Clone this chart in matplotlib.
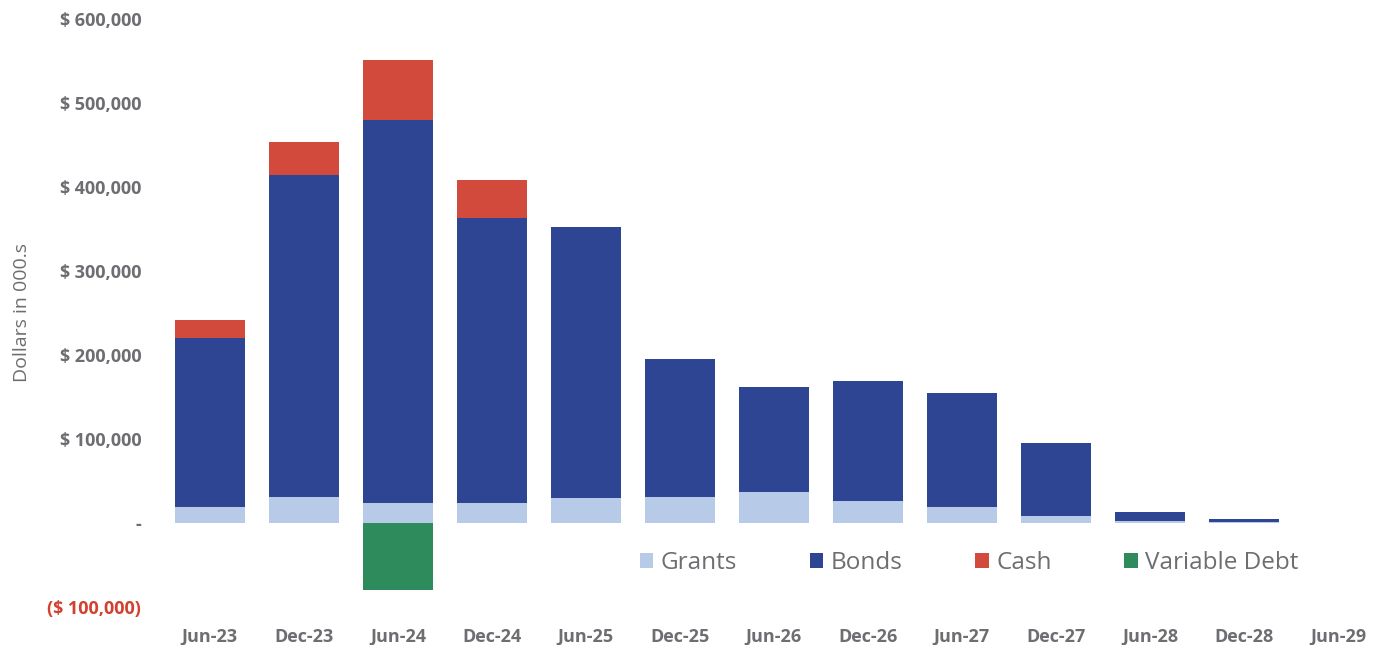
import numpy as np
import matplotlib
matplotlib.use('Agg')
import matplotlib.pyplot as plt

plt.rcParams['font.family'] = ['Open Sans', 'DejaVu Sans']

# Funding sources by period (dollars in 000s)
periods = ['Jun-23', 'Dec-23', 'Jun-24', 'Dec-24', 'Jun-25', 'Dec-25', 'Jun-26',
           'Dec-26', 'Jun-27', 'Dec-27', 'Jun-28', 'Dec-28', 'Jun-29']
grants = [19000, 31000, 23000, 23000, 29000, 31000, 36000, 26000, 19000, 8000, 2000, 1000, 0]
bonds = [201000, 383000, 457000, 340000, 323000, 164000, 126000, 143000, 135000, 87000, 11000, 3000, 0]
cash = [22000, 40000, 71000, 45000, 0, 0, 0, 0, 0, 0, 0, 0, 0]
variable_debt = [0, 0, -80000, 0, 0, 0, 0, 0, 0, 0, 0, 0, 0]

ytick_vals = [-100000, 0, 100000, 200000, 300000, 400000, 500000, 600000]
ytick_text = ['($ 100,000)', '-', '$ 100,000', '$ 200,000', '$ 300,000',
              '$ 400,000', '$ 500,000', '$ 600,000']

c_grants = '#b7cbe8'
c_bonds = '#2d4592'
c_cash = '#d24a3c'
c_var = '#2e8b5b'
grey = '#6d6d72'

fig = plt.figure(figsize=(13.9, 6.45), dpi=100)
ax = fig.add_axes([0.1036, 0.0465, 0.8928, 0.937])

x = np.arange(len(periods))
w = 0.75
g = np.array(grants)
b = np.array(bonds)
ax.bar(x, g, w, color=c_grants, label='Grants')
ax.bar(x, b, w, bottom=g, color=c_bonds, label='Bonds')
ax.bar(x, cash, w, bottom=g + b, color=c_cash, label='Cash')
ax.bar(x, variable_debt, w, color=c_var, label='Variable Debt')

ax.set_xlim(-0.7, 12.5)
ax.set_ylim(-110000, 610000)
for s in ax.spines.values():
    s.set_visible(False)

ax.set_xticks(x)
ax.set_xticklabels(periods, fontsize=13, fontweight='bold', color=grey)
ax.set_yticks(ytick_vals)
ax.set_yticklabels(ytick_text, fontsize=13, fontweight='bold', color=grey)
ax.get_yticklabels()[0].set_color('#d2402f')
ax.tick_params(axis='both', length=0)
ax.tick_params(axis='x', pad=9)
ax.tick_params(axis='y', pad=2)

ax.set_ylabel('Dollars in 000.s', fontsize=14, color=grey, labelpad=12)

leg = ax.legend(loc='center', bbox_to_anchor=(0.665, 0.086), ncol=4, frameon=False,
                fontsize=17.5, handlelength=0.55, handleheight=0.6, handletextpad=0.3,
                columnspacing=3.0)
for t in leg.get_texts():
    t.set_color(grey)

fig.savefig('out.png', dpi=100)
